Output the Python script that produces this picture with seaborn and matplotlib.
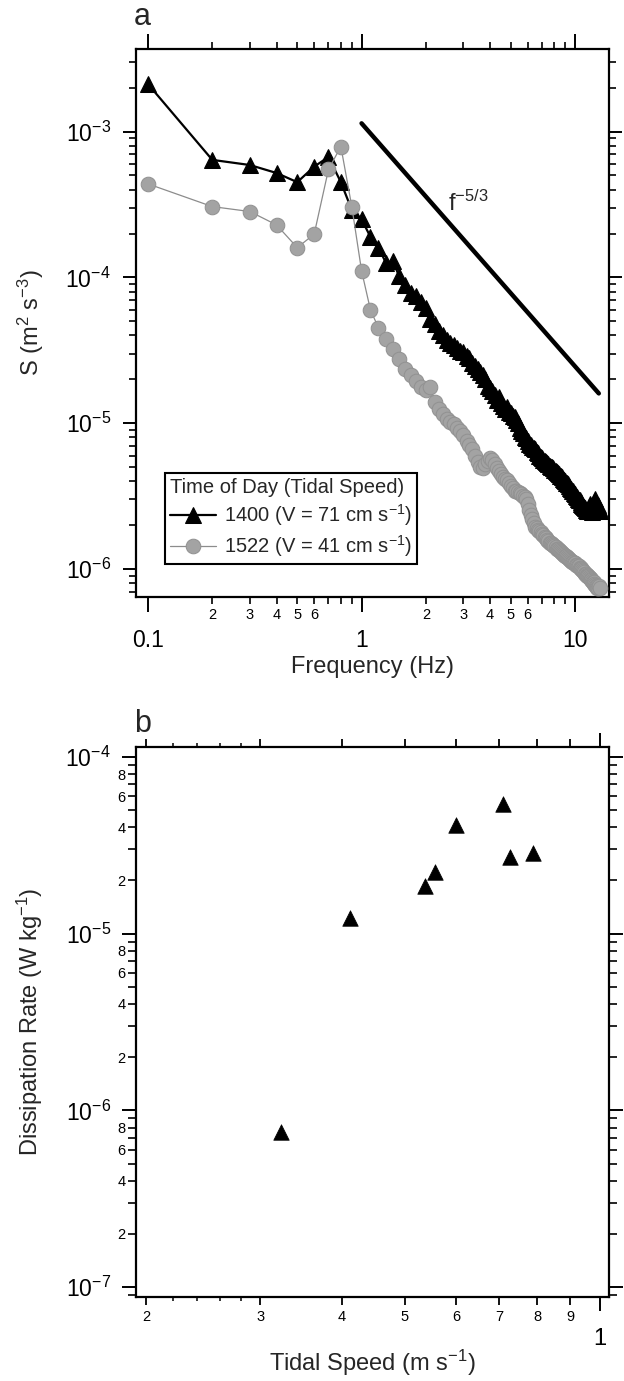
import matplotlib
matplotlib.use("Agg")
import matplotlib.pyplot as plt
import numpy as np
import pandas as pd
import seaborn as sns
from matplotlib.ticker import FixedLocator, FixedFormatter, FuncFormatter, NullLocator, LogLocator

# ---------------- data ----------------
freq = [0.1, 0.2, 0.3, 0.4, 0.5, 0.6, 0.7, 0.8, 0.9, 1.0,
        1.1, 1.2, 1.3, 1.4, 1.5, 1.6, 1.7, 1.8, 1.9, 2.0,
        2.1, 2.2, 2.3, 2.4, 2.5, 2.6, 2.7, 2.8, 2.9, 3.0,
        3.1, 3.2, 3.3, 3.4, 3.5, 3.6, 3.7, 3.8, 3.9, 4.0,
        4.1, 4.2, 4.3, 4.4, 4.5, 4.6, 4.7, 4.8, 4.9, 5.0,
        5.1, 5.2, 5.3, 5.4, 5.5, 5.6, 5.7, 5.8, 5.9, 6.0,
        6.1, 6.2, 6.3, 6.4, 6.5, 6.6, 6.7, 6.8, 6.9, 7.0,
        7.1, 7.2, 7.3, 7.4, 7.5, 7.6, 7.7, 7.8, 7.9, 8.0,
        8.1, 8.2, 8.3, 8.4, 8.5, 8.6, 8.7, 8.8, 8.9, 9.0,
        9.1, 9.2, 9.3, 9.4, 9.5, 9.6, 9.7, 9.8, 9.9, 10.0,
        10.1, 10.2, 10.3, 10.4, 10.5, 10.6, 10.7, 10.8, 10.9, 11.0,
        11.1, 11.2, 11.3, 11.4, 11.5, 11.6, 11.7, 11.8, 11.9, 12.0,
        12.1, 12.2, 12.3, 12.4, 12.5, 12.6, 12.7, 12.8, 12.9, 13.0]

spec_1400 = [2.12e-3, 6.4e-4, 5.9e-4, 5.2e-4, 4.5e-4, 5.75e-4, 6.7e-4, 4.5e-4, 2.9e-4, 2.5e-4,
             1.9e-4, 1.6e-4, 1.26e-4, 1.29e-4, 1.02e-4, 8.9e-5, 7.8e-5, 7.4e-5, 6.8e-5, 6.2e-5,
             5.2e-5, 4.8e-5, 4.3e-5, 4.0e-5, 3.7e-5, 3.55e-5, 3.45e-5, 3.3e-5, 3.15e-5, 3.1e-5,
             2.9e-5, 2.8e-5, 2.6e-5, 2.45e-5, 2.35e-5, 2.25e-5, 2.15e-5, 2.0e-5, 1.8e-5, 1.75e-5,
             1.65e-5, 1.55e-5, 1.45e-5, 1.5e-5, 1.38e-5, 1.32e-5, 1.26e-5, 1.3e-5, 1.2e-5, 1.18e-5,
             1.12e-5, 1.1e-5, 1.05e-5, 1.0e-5, 9.3e-6, 8.9e-6, 8.5e-6, 8.1e-6, 7.9e-6, 7.6e-6,
             7.2e-6, 7.1e-6, 6.9e-6, 6.8e-6, 6.6e-6, 6.3e-6, 6.2e-6, 6.0e-6, 5.9e-6, 5.75e-6,
             5.6e-6, 5.5e-6, 5.4e-6, 5.35e-6, 5.25e-6, 5.1e-6, 5.0e-6, 5.0e-6, 4.9e-6, 4.8e-6,
             4.7e-6, 4.65e-6, 4.55e-6, 4.45e-6, 4.35e-6, 4.35e-6, 4.25e-6, 4.15e-6, 4.05e-6, 4.0e-6,
             3.9e-6, 3.9e-6, 3.8e-6, 3.7e-6, 3.6e-6, 3.55e-6, 3.45e-6, 3.4e-6, 3.3e-6, 3.25e-6,
             3.15e-6, 3.1e-6, 3.0e-6, 2.95e-6, 2.95e-6, 2.9e-6, 2.8e-6, 2.75e-6, 2.7e-6, 2.65e-6,
             2.62e-6, 2.55e-6, 2.5e-6, 2.55e-6, 2.5e-6, 2.65e-6, 2.8e-6, 2.6e-6, 2.5e-6, 2.45e-6,
             2.55e-6, 2.7e-6, 2.9e-6, 3.0e-6, 2.85e-6, 2.7e-6, 2.6e-6, 2.75e-6, 2.6e-6, 2.5e-6]

spec_1522 = [4.38e-4, 3.06e-4, 2.83e-4, 2.29e-4, 1.6e-4, 1.98e-4, 5.5e-4, 7.9e-4, 3.06e-4, 1.11e-4,
             6.0e-5, 4.5e-5, 3.8e-5, 3.25e-5, 2.75e-5, 2.35e-5, 2.15e-5, 1.95e-5, 1.78e-5, 1.7e-5,
             1.78e-5, 1.4e-5, 1.26e-5, 1.15e-5, 1.07e-5, 1.02e-5, 9.8e-6, 9.3e-6, 8.9e-6, 8.3e-6,
             7.6e-6, 7.1e-6, 6.6e-6, 6.0e-6, 5.4e-6, 5.0e-6, 4.9e-6, 5.25e-6, 5.5e-6, 5.75e-6,
             5.6e-6, 5.25e-6, 4.9e-6, 4.7e-6, 4.45e-6, 4.25e-6, 4.15e-6, 4.05e-6, 3.9e-6, 3.7e-6,
             3.6e-6, 3.45e-6, 3.4e-6, 3.38e-6, 3.3e-6, 3.25e-6, 3.15e-6, 3.1e-6, 3.0e-6, 2.8e-6,
             2.55e-6, 2.35e-6, 2.2e-6, 2.05e-6, 1.95e-6, 1.9e-6, 1.85e-6, 1.82e-6, 1.78e-6, 1.74e-6,
             1.7e-6, 1.66e-6, 1.62e-6, 1.58e-6, 1.55e-6, 1.51e-6, 1.5e-6, 1.48e-6, 1.45e-6, 1.44e-6,
             1.41e-6, 1.38e-6, 1.37e-6, 1.35e-6, 1.32e-6, 1.31e-6, 1.29e-6, 1.26e-6, 1.25e-6, 1.23e-6,
             1.22e-6, 1.2e-6, 1.19e-6, 1.17e-6, 1.15e-6, 1.14e-6, 1.12e-6, 1.11e-6, 1.1e-6, 1.09e-6,
             1.07e-6, 1.06e-6, 1.05e-6, 1.04e-6, 1.02e-6, 1.01e-6, 1.0e-6, 9.8e-7, 9.7e-7, 9.5e-7,
             9.3e-7, 9.2e-7, 9.1e-7, 9.0e-7, 8.9e-7, 8.8e-7, 8.7e-7, 8.5e-7, 8.4e-7, 8.3e-7,
             8.2e-7, 8.1e-7, 7.9e-7, 7.8e-7, 7.6e-7, 7.6e-7, 7.4e-7, 7.4e-7, 7.6e-7, 7.4e-7]

ref_f = [1.0, 12.9]
ref_s = [1.14e-3, 1.6e-5]

tidal_speed = [0.323, 0.412, 0.538, 0.557, 0.600, 0.708, 0.726, 0.789]
dissipation = [7.55e-7, 1.23e-5, 1.87e-5, 2.22e-5, 4.13e-5, 5.4e-5, 2.73e-5, 2.86e-5]

label_1400 = r"1400 (V = 71 cm s$^{-1}$)"
label_1522 = r"1522 (V = 41 cm s$^{-1}$)"

# ---------------- style ----------------
sns.set_theme(style="ticks")
plt.rcParams["font.family"] = ["Liberation Sans", "DejaVu Sans"]
plt.rcParams["mathtext.fontset"] = "custom"
plt.rcParams["mathtext.rm"] = "Liberation Sans"
plt.rcParams["mathtext.it"] = "Liberation Sans:italic"
plt.rcParams["mathtext.bf"] = "Liberation Sans:bold"
plt.rcParams["mathtext.sf"] = "Liberation Sans"
plt.rcParams["mathtext.default"] = "regular"
plt.rcParams["axes.linewidth"] = 1.6
plt.rcParams["axes.edgecolor"] = "black"
plt.rcParams["xtick.color"] = "black"
plt.rcParams["ytick.color"] = "black"

W, H = 624, 1381
fig = plt.figure(figsize=(W / 100, H / 100), dpi=100)
fig.patch.set_facecolor("white")

def px_axes(l, r, t, b):
    return fig.add_axes([l / W, 1 - b / H, (r - l) / W, (b - t) / H])

ax1 = px_axes(136, 609, 49.3, 596.7)
ax2 = px_axes(136, 609, 747, 1297)

def pow_fmt(v, pos):
    e = int(round(np.log10(v)))
    return r"$10^{%d}$" % e

# ---------------- panel a ----------------
ax1.set_xscale("log")
ax1.set_yscale("log")

df_a = pd.DataFrame({"f": freq, "s1400": spec_1400, "s1522": spec_1522})
sns.lineplot(data=df_a, x="f", y="s1400", ax=ax1, color="black", lw=1.6,
             marker="^", markersize=12, markeredgecolor="black",
             markerfacecolor="black", label=label_1400, sort=False, estimator=None,
             zorder=3)
sns.lineplot(data=df_a, x="f", y="s1522", ax=ax1, color="#8c8c8c", lw=0.9,
             marker="o", markersize=10.5, markeredgecolor="#929292",
             markerfacecolor="#a3a3a3", label=label_1522, sort=False, estimator=None,
             zorder=4)
sns.lineplot(x=ref_f, y=ref_s, ax=ax1, color="black", lw=3.2, legend=False, zorder=2)
ax1.text(2.55, 2.85e-4, r"f$^{-5/3}$", fontsize=17, va="baseline", ha="left")

ax1.set_xlim(0.0879, 14.4)
ax1.set_ylim(6.45e-7, 3.67e-3)

ax1.xaxis.set_major_locator(FixedLocator([0.1, 1, 10]))
ax1.xaxis.set_major_formatter(FixedFormatter(["0.1", "1", "10"]))
minor_a = [0.2, 0.3, 0.4, 0.5, 0.6, 0.7, 0.8, 0.9, 2, 3, 4, 5, 6, 7, 8, 9]
minor_a_lab = ["2", "3", "4", "5", "6", "", "", "", "2", "3", "4", "5", "6", "", "", ""]
ax1.xaxis.set_minor_locator(FixedLocator(minor_a))
ax1.xaxis.set_minor_formatter(FixedFormatter(minor_a_lab))
ax1.yaxis.set_major_locator(FixedLocator([1e-6, 1e-5, 1e-4, 1e-3]))
ax1.yaxis.set_major_formatter(FuncFormatter(pow_fmt))
ax1.yaxis.set_minor_locator(LogLocator(base=10, subs=np.arange(2, 10), numticks=20))
ax1.yaxis.set_minor_formatter(FuncFormatter(lambda v, p: ""))

ax1.tick_params(axis="x", which="major", direction="out", length=11, width=1.4,
                pad=12, labelsize=16.5, top=True, bottom=True, labeltop=False)
ax1.tick_params(axis="x", which="minor", direction="out", length=5, width=1.2,
                pad=3, labelsize=10.5, top=True, bottom=True, labeltop=False)
ax1.tick_params(axis="y", which="major", direction="out", length=9.5, width=1.4,
                pad=8.5, labelsize=16.5, left=True, right=True, labelright=False)
ax1.tick_params(axis="y", which="minor", direction="out", length=5, width=1.2,
                left=True, right=True, labelleft=False, labelright=False)

ax1.set_xlabel("Frequency (Hz)", fontsize=17)
ax1.xaxis.set_label_coords(0.5, -0.108)
ax1.set_ylabel(r"S (m$^{2}$ s$^{-3}$)", fontsize=17)
ax1.yaxis.set_label_coords(-0.19, 0.5)

h, l = ax1.get_legend_handles_labels()
leg = ax1.legend(h[:2], l[:2], title="Time of Day (Tidal Speed)", loc="lower left",
                 bbox_to_anchor=(0.061, 0.060), fontsize=14.5, title_fontsize=14.5,
                 frameon=True, fancybox=False, framealpha=1, edgecolor="black",
                 borderpad=0.25, labelspacing=0.25, handlelength=2.3,
                 handletextpad=0.4, borderaxespad=0, alignment="left")
leg.get_frame().set_linewidth(1.5)

# ---------------- panel b ----------------
ax2.set_xscale("log")
ax2.set_yscale("log")
df_b = pd.DataFrame({"speed": tidal_speed, "eps": dissipation})
sns.scatterplot(data=df_b, x="speed", y="eps", ax=ax2, marker="^", s=125,
                color="black", edgecolor="black", linewidth=0.5, legend=False)

ax2.set_xlim(0.193, 1.032)
ax2.set_ylim(8.79e-8, 1.138e-4)

ax2.xaxis.set_major_locator(FixedLocator([1.0]))
ax2.xaxis.set_major_formatter(FixedFormatter(["1"]))
minor_b = [0.2, 0.3, 0.4, 0.5, 0.6, 0.7, 0.8, 0.9]
ax2.xaxis.set_minor_locator(FixedLocator(minor_b))
ax2.xaxis.set_minor_formatter(FixedFormatter(["2", "3", "4", "5", "6", "7", "8", "9"]))
ax2.yaxis.set_major_locator(FixedLocator([1e-7, 1e-6, 1e-5, 1e-4]))
ax2.yaxis.set_major_formatter(FuncFormatter(pow_fmt))
ax2.yaxis.set_minor_locator(LogLocator(base=10, subs=np.arange(2, 10), numticks=20))

def minor_lab(v, pos):
    m = int(round(v / 10 ** np.floor(np.log10(v) + 1e-9)))
    return str(m) if m in (2, 4, 6, 8) else ""

ax2.yaxis.set_minor_formatter(FuncFormatter(minor_lab))

ax2.tick_params(axis="x", which="major", direction="out", length=10, width=1.4,
                pad=12, labelsize=17, top=True, bottom=True, labeltop=False)
ax2.tick_params(axis="x", which="minor", direction="out", length=5.5, width=1.3,
                pad=4, labelsize=10.5, top=True, bottom=True, labeltop=False)
ax2.tick_params(axis="y", which="major", direction="out", length=10, width=1.4,
                pad=8, labelsize=16.5, left=True, right=True, labelright=False)
ax2.tick_params(axis="y", which="minor", direction="out", length=5.5, width=1.2,
                pad=2, labelsize=10.5, left=True, right=True, labelright=False)

for loc in ("bottom", "top"):
    sec = ax2.secondary_xaxis(loc)
    sec.set_ticks([0.22, 0.24, 0.26, 0.28])
    sec.xaxis.set_minor_locator(NullLocator())
    sec.tick_params(axis="x", which="major", direction="out", length=3, width=1.1,
                    labelbottom=False, labeltop=False)
    for sp in sec.spines.values():
        sp.set_visible(False)

ax2.set_xlabel(r"Tidal Speed (m s$^{-1}$)", fontsize=17)
ax2.xaxis.set_label_coords(0.5, -0.093)
ax2.set_ylabel(r"Dissipation Rate (W kg$^{-1}$)", fontsize=17)
ax2.yaxis.set_label_coords(-0.192, 0.5)

# panel letters
fig.text(134 / W, 1 - 25 / H, "a", fontsize=22, ha="left", va="baseline")
fig.text(134 / W, 1 - 732 / H, "b", fontsize=22, ha="left", va="baseline")

fig.savefig("out.png", dpi=100, facecolor="white")
